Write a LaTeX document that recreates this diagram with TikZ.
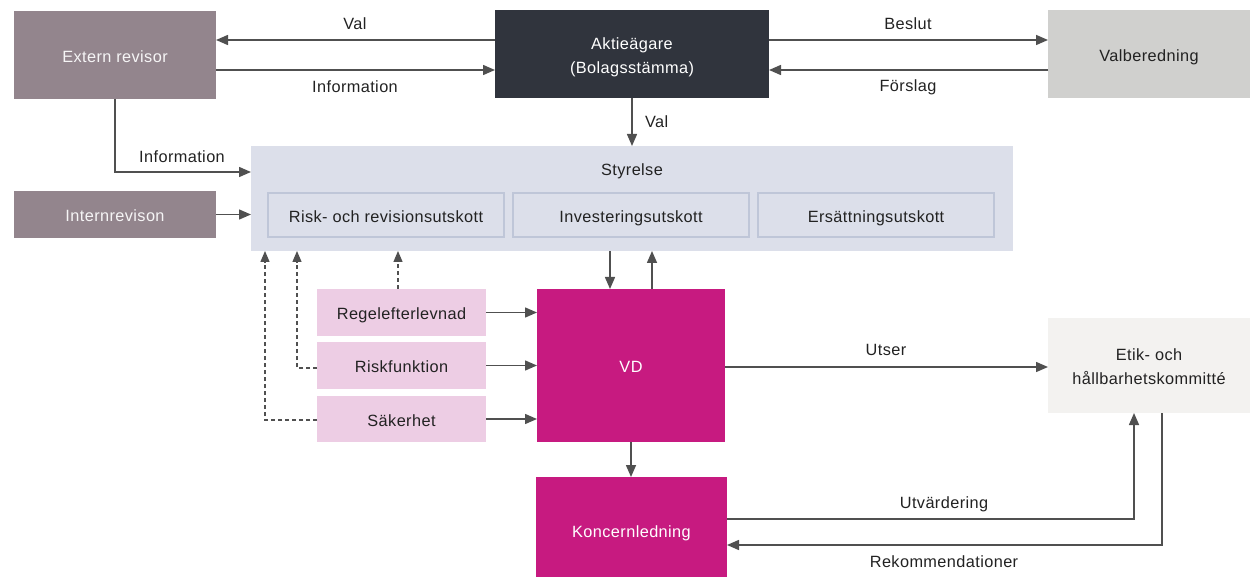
\documentclass[tikz,border=0pt]{standalone}
\usepackage{fontspec}
\setmainfont{Liberation Sans}[LetterSpace=2.5]
\usetikzlibrary{arrows.meta}
\definecolor{mauve}{HTML}{93858D}
\definecolor{darkbox}{HTML}{30343D}
\definecolor{greybox}{HTML}{D0D0CE}
\definecolor{styr}{HTML}{DCDFEA}
\definecolor{styrline}{HTML}{BFC6D8}
\definecolor{pinklight}{HTML}{EDCDE4}
\definecolor{magenta}{HTML}{C71A80}
\definecolor{offwhite}{HTML}{F3F2F0}
\definecolor{linec}{HTML}{505050}
\definecolor{txt}{HTML}{222222}
\begin{document}
\begin{tikzpicture}[x=1pt,y=-1pt,
  every node/.style={inner sep=0pt,outer sep=0pt,font=\fontsize{16.3}{24}\selectfont,text=txt},
  box/.style={rectangle,minimum width=#1,text height=14.5pt,text depth=0pt},
  mauvebox/.style={box=202pt,fill=mauve,text=white!92!mauve},
  sub/.style={rectangle,fill=styr,draw=styrline,line width=1.5pt,minimum width=236pt,minimum height=44pt,text height=14.5pt,text depth=0pt},
  pinkbox/.style={box=169pt,fill=pinklight},
  arr/.style={draw=linec,line width=1.5pt,-{Triangle[length=12pt,width=10pt]}},
  darr/.style={draw=linec,line width=1.3pt,dash pattern=on 4pt off 3pt,-{Triangle[length=11pt,width=9pt]}}
]
\useasboundingbox (0,0) rectangle (1250,577);
% boxes
\node[mauvebox,minimum height=88pt] (ext) at (115,55) {Extern revisor};
\node[rectangle,minimum width=274pt,minimum height=88pt,fill=darkbox,text=white,align=center,text height=42pt] (akt) at (632,54) {Aktieägare\\(Bolagsstämma)};
\node[box=202pt,minimum height=88pt,fill=greybox] (valb) at (1149,54) {Valberedning};
\node[rectangle,minimum width=762pt,minimum height=105pt,fill=styr] (sty) at (632,198.5) {};
\node (stytxt) at (632,171) {Styrelse};
\node[sub] (rr) at (386,215) {Risk- och revisionsutskott};
\node[sub] (inv) at (631,215) {Investeringsutskott};
\node[sub] (ers) at (876,215) {Ersättningsutskott};
\node[mauvebox,minimum height=47pt] (intr) at (115,214.5) {Internrevison};
\node[pinkbox,minimum height=47pt] (regel) at (401.5,312.5) {Regelefterlevnad};
\node[pinkbox,minimum height=47pt] (riskf) at (401.5,365.5) {Riskfunktion};
\node[pinkbox,minimum height=46pt] (sak) at (401.5,419) {Säkerhet};
\node[box=188pt,minimum height=153pt,fill=magenta,text=white] (vd) at (631,365.5) {VD};
\node[box=191pt,minimum height=100pt,fill=magenta,text=white,text height=20pt] (kon) at (631.5,527) {Koncernledning};
\node[rectangle,minimum width=202pt,minimum height=95pt,fill=offwhite,align=center,text height=39pt] (etik) at (1149,365.5) {Etik- och\\hållbarhetskommitté};
% top connectors
\draw[arr] (akt.west |- 0,40) -- (ext.east |- 0,40);
\node (l1) at (355,24) {Val};
\draw[arr] (ext.east |- 0,70) -- (akt.west |- 0,70);
\node (l2) at (355,87) {Information};
\draw[arr] (akt.east |- 0,40) -- (valb.west |- 0,40);
\node (l3) at (908,24) {Beslut};
\draw[arr] (valb.west |- 0,70) -- (akt.east |- 0,70);
\node (l4) at (908,87) {Förslag};
\draw[arr] (akt.south) -- (sty.north -| akt.south);
\node[anchor=west] (l5) at (645,122) {Val};
\draw[arr] (ext.south) |- (sty.west |- 0,172);
\node (l6) at (182,157) {Information};
\draw[arr] (intr.east) -- (sty.west |- intr.east);
% VD and Styrelse
\draw[arr] (sty.south -| 610,0) -- (vd.north -| 610,0);
\draw[arr] (vd.north -| 652,0) -- (sty.south -| 652,0);
\draw[arr] (regel.east) -- (vd.west |- regel.east);
\draw[arr] (riskf.east) -- (vd.west |- riskf.east);
\draw[arr] (sak.east) -- (vd.west |- sak.east);
% dashed
\draw[darr] (regel.north -| 398,0) -- (sty.south -| 398,0);
\draw[darr] (riskf.west |- 0,368) -| (sty.south -| 297,0);
\draw[darr] (sak.west |- 0,420) -| (sty.south -| 265,0);
% VD to Etik
\draw[arr] (vd.east |- 0,367) -- (etik.west |- 0,367);
\node (l7) at (886,350) {Utser};
\draw[arr] (vd.south) -- (kon.north -| vd.south);
\draw[arr] (kon.east |- 0,519) -| (etik.south -| 1134,0);
\node (l8) at (944,504) {Utvärdering};
\draw[arr] (etik.south -| 1162,0) |- (kon.east |- 0,545);
\node (l9) at (944,562) {Rekommendationer};
\end{tikzpicture}
\end{document}
